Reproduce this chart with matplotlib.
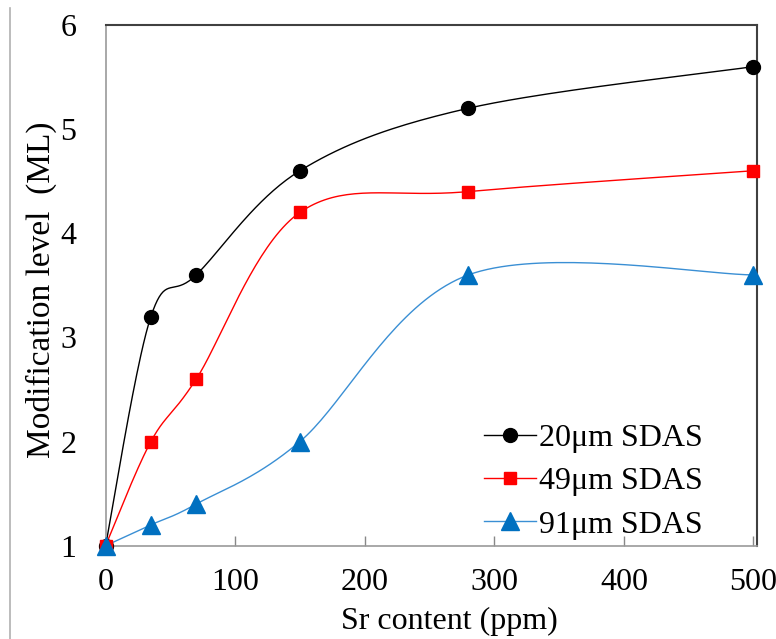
import numpy as np
import matplotlib
matplotlib.use("Agg")
import matplotlib.pyplot as plt
from matplotlib.lines import Line2D

plt.rcParams['font.family'] = ['Liberation Serif', 'DejaVu Serif']

sr = [0, 35, 70, 150, 280, 500]
ml_20 = [1.0, 3.2, 3.6, 4.6, 5.2, 5.6]
ml_49 = [1.0, 2.0, 2.6, 4.2, 4.4, 4.6]
ml_91 = [1.0, 1.2, 1.4, 2.0, 3.6, 3.6]
labels = ['20\u03bcm SDAS', '49\u03bcm SDAS', '91\u03bcm SDAS']
xticks = [0, 100, 200, 300, 400, 500]
yticks = [1, 2, 3, 4, 5, 6]


def smooth(x, y, n=40):
    # Excel-like smoothing: cubic Bezier with Catmull-Rom control points
    x = np.asarray(x, float); y = np.asarray(y, float)
    px = np.concatenate([[x[0]], x, [x[-1]]])
    py = np.concatenate([[y[0]], y, [y[-1]]])
    xs, ys = [], []
    t = np.linspace(0, 1, n)
    for i in range(1, len(px) - 2):
        p0 = np.array([px[i], py[i]])
        p3 = np.array([px[i + 1], py[i + 1]])
        c1 = p0 + (np.array([px[i + 1], py[i + 1]]) - np.array([px[i - 1], py[i - 1]])) / 6
        c2 = p3 - (np.array([px[i + 2], py[i + 2]]) - np.array([px[i], py[i]])) / 6
        b = ((1 - t) ** 3)[:, None] * p0 + (3 * (1 - t) ** 2 * t)[:, None] * c1 \
            + (3 * (1 - t) * t ** 2)[:, None] * c2 + (t ** 3)[:, None] * p3
        xs.extend(b[:, 0]); ys.extend(b[:, 1])
    return np.array(xs), np.array(ys)


fig = plt.figure(figsize=(7.76, 6.39), dpi=100)
ax = fig.add_axes([0.136, 0.146, 0.840, 0.815])

# thin grey frame line at the left edge of the image
fig.add_artist(Line2D([9.5 / 776, 9.5 / 776], [0, 1 - 8 / 639], transform=fig.transFigure,
                      color='#B0B0B0', lw=1.2))

series = [
    (ml_20, 'black', 'black', 'o', 10),
    (ml_49, '#FF0000', '#FF0000', 's', 9),
    (ml_91, '#3A8FD4', '#0070C0', '^', 13),
]
for (ys, col, mc, mk, ms), lab in zip(series, labels):
    sx, sy = smooth(sr, ys)
    ax.plot(sx, sy, color=col, lw=1.0, zorder=2)
    ax.plot(sr, ys, linestyle='none', marker=mk, ms=ms, color=mc,
            markeredgecolor=mc, zorder=3, clip_on=False)
    ax.plot([], [], color=col, lw=1.0, marker=mk, ms=ms, markerfacecolor=mc,
            markeredgecolor=mc, label=lab)

ax.set_xlim(0, 503)
ax.set_ylim(1, 6)
ax.set_xticks(xticks)
ax.set_yticks(yticks)
ax.tick_params(axis='x', direction='in', length=7, color='#888888', width=1,
               pad=16, labelsize=23)
ax.tick_params(axis='y', length=0, pad=21, labelsize=23)
for s in ['left', 'bottom']:
    ax.spines[s].set_color('#9A9A9A')
    ax.spines[s].set_linewidth(1.2)
for s in ['top', 'right']:
    ax.spines[s].set_color('#404040')
    ax.spines[s].set_linewidth(1.5)

ax.set_xlabel('Sr content (ppm)', fontsize=23)
ax.xaxis.set_label_coords(0.5275, -0.118)
ax.set_ylabel('Modification level  (ML)', fontsize=24)
ax.yaxis.set_label_coords(-0.075, 0.491)

leg = ax.legend(loc='upper left', bbox_to_anchor=(0.58, 0.235), frameon=False,
                fontsize=23, handlelength=1.63, handletextpad=0.1,
                labelspacing=0.44, borderpad=0, borderaxespad=0)

fig.savefig('out.png', dpi=100)
